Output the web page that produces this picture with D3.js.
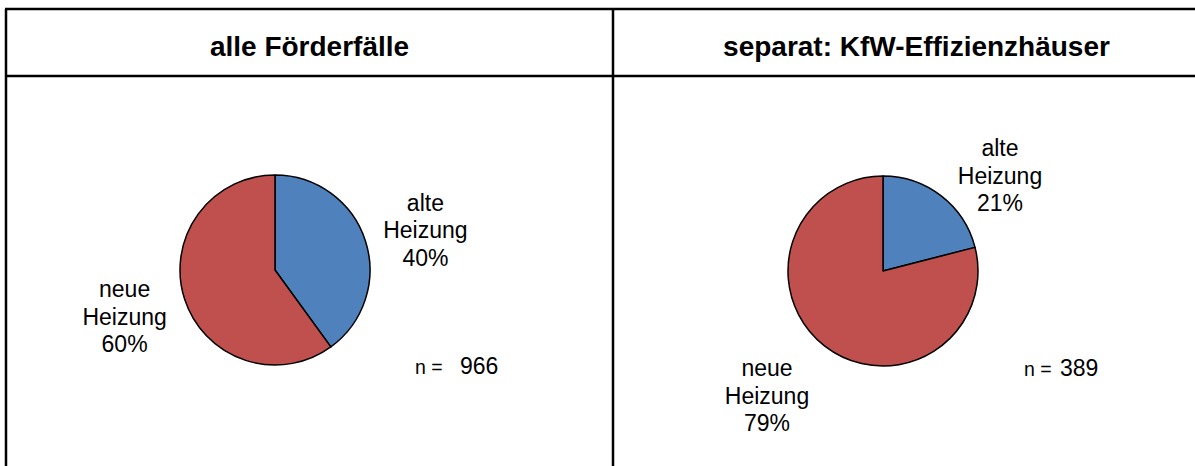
<!DOCTYPE html>
<html>
<head>
<meta charset="utf-8">
<script src="https://cdn.jsdelivr.net/npm/d3@7"></script>
<style>
  body { margin: 0; background: #fff; }
  text { font-family: "Liberation Sans", Arial, sans-serif; fill: #000; }
</style>
</head>
<body>
<svg id="chart" width="1195" height="466"></svg>
<script>
// data
const panelTitles = ["alle Förderfälle", "separat: KfW-Effizienzhäuser"];
const categories = ["alte Heizung", "neue Heizung"];
const shares = [[40, 60], [21, 79]];
const sampleSizes = [966, 389];
const colors = ["#4f81bd", "#c0504d"];

const svg = d3.select("#chart");
const W = 1195, H = 466;

// table frame
const frameLeft = 6, frameTop = 9, divider = 613, headBottom = 76;
const frame = svg.append("g").attr("stroke", "#000").attr("stroke-width", 2.5);
frame.append("line").attr("x1", frameLeft - 1).attr("x2", W).attr("y1", frameTop).attr("y2", frameTop);
frame.append("line").attr("x1", frameLeft).attr("x2", W).attr("y1", headBottom).attr("y2", headBottom);
frame.append("line").attr("x1", frameLeft).attr("x2", frameLeft).attr("y1", frameTop).attr("y2", H);
frame.append("line").attr("x1", divider).attr("x2", divider).attr("y1", frameTop).attr("y2", H);

const panelX = d3.scaleBand().domain(d3.range(panelTitles.length)).range([frameLeft, divider + (divider - frameLeft)]);

const radius = 95;
const pie = d3.pie().sort(null).value(d => d);
const arc = d3.arc().innerRadius(0).outerRadius(radius);
const labelArc = d3.arc().innerRadius(155).outerRadius(155);

// label nudges per panel, Excel moved some labels off the centroid line
const nudges = [[[3, 8], [-3, -1]], [[22, 27], [-21, 2]]];
const centers = [[275, 270], [883, 271]];
const nPos = [[415, 460, 374], [1024, 1060, 376]];

panelTitles.forEach((title, p) => {
  svg.append("text")
    .attr("x", panelX(p) + panelX.bandwidth() / 2)
    .attr("y", 49)
    .attr("text-anchor", "middle")
    .attr("dominant-baseline", "middle")
    .attr("font-size", 28)
    .attr("font-weight", "bold")
    .text(title);

  const g = svg.append("g").attr("transform", `translate(${centers[p][0]},${centers[p][1]})`);
  const arcs = pie(shares[p]);

  g.selectAll("path").data(arcs).join("path")
    .attr("d", arc)
    .attr("fill", (d, i) => colors[i])
    .attr("stroke", "#000")
    .attr("stroke-width", 1.5)
    .attr("stroke-linejoin", "round");

  g.selectAll("text.lbl").data(arcs).join("text")
    .attr("class", "lbl")
    .attr("text-anchor", "middle")
    .attr("font-size", 23)
    .each(function(d, i) {
      const c = labelArc.centroid(d);
      const x = c[0] + nudges[p][i][0], y = c[1] + nudges[p][i][1];
      const lines = categories[i].split(" ").concat([d.value + "%"]);
      d3.select(this).selectAll("tspan").data(lines).join("tspan")
        .attr("x", x)
        .attr("y", (l, k) => y + (k - 1) * 27.5)
        .attr("dy", "0.35em")
        .text(l => l);
    });

  const n = svg.append("text").attr("y", nPos[p][2]);
  n.append("tspan").attr("x", nPos[p][0]).attr("font-size", 19.5).text("n =");
  n.append("tspan").attr("x", nPos[p][1]).attr("font-size", 23).text(sampleSizes[p]);
});
</script>
</body>
</html>
